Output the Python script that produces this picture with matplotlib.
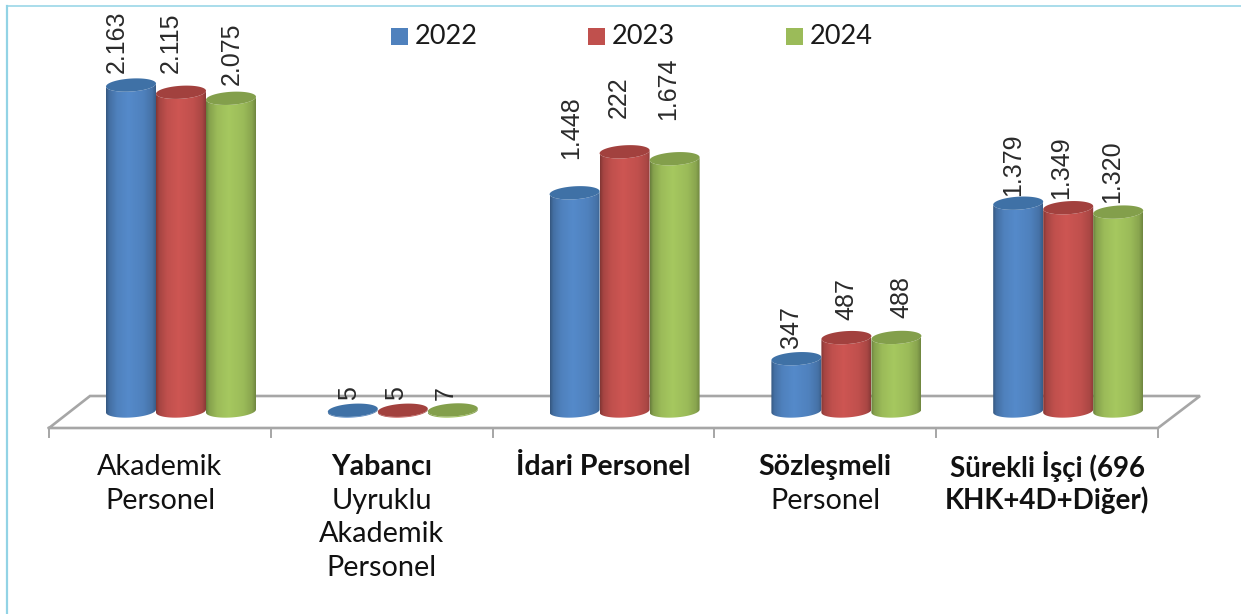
import numpy as np
import matplotlib
matplotlib.use("Agg")
import matplotlib.pyplot as plt
from matplotlib.path import Path
from matplotlib.patches import PathPatch, Rectangle
from matplotlib.colors import to_rgb

years = ["2022", "2023", "2024"]
categories = ["Akademik", "Yabancı", "İdari", "Sözleşmeli", "Sürekli"]
# bar heights, the 2023 idari bar does not match its printed label
values_2022 = [2163, 5, 1448, 347, 1379]
values_2023 = [2115, 5, 1720, 487, 1349]
values_2024 = [2075, 7, 1674, 488, 1320]
labels_2022 = ["2.163", "5", "1.448", "347", "1.379"]
labels_2023 = ["2.115", "5", "222", "487", "1.349"]
labels_2024 = ["2.075", "7", "1.674", "488", "1.320"]

# category text, one entry per line: (text, bold)
cat_lines = [
    [("Akademik", False), ("Personel", False)],
    [("Yabancı", True), ("Uyruklu", False), ("Akademik", False), ("Personel", False)],
    [("İdari Personel", True)],
    [("Sözleşmeli", True), ("Personel", False)],
    [("Sürekli İşçi (696", True), ("KHK+4D+Diğer)", True)],
]

# label nudges in pixels, the original labels were placed by hand
label_dx = [[-14, -10, 1], [-4, -7, -7], [-3, -6, -6], [-5, 0, 5], [-5, -7, -6]]
label_dy = [[12, 19, 13], [10, 10, 10], [34, 34, 39], [11, 18, 19], [7, 9, 9]]

base_cols = ["#4f81bd", "#c0504d", "#9bbb59"]
top_cols = ["#3f71a6", "#a2413e", "#839f4b"]
floor_col = "#a6a6a6"
frame_col = "#92d3e5"
text_font = ["Lato", "DejaVu Sans"]

W, H = 1241, 614
fig = plt.figure(figsize=(W / 100, H / 100), dpi=100, facecolor="white")

# pixel axes for the frame, floor and text
deco = fig.add_axes([0, 0, 1, 1])
deco.set_xlim(0, W)
deco.set_ylim(H, 0)
deco.axis("off")

# frame
deco.plot([7, 7], [6, H], color=frame_col, lw=1.6)
deco.plot([7, W], [6, 6], color=frame_col, lw=1.1)

# floor
floor_x = [49, 90, 1200, 1158, 49]
floor_y = [428, 396, 396, 428, 428]
deco.plot(floor_x, floor_y, color=floor_col, lw=1.9, solid_joinstyle="miter")
for tx in np.linspace(49, 1158, 6):
    deco.plot([tx, tx], [428, 437], color=floor_col, lw=1.4)

# data axes, category 0 sits at x=160px and value 0 at y=411px
px_x = 221.8
px_y = 0.1507
ax = fig.add_axes([0, 0, 1, 1])
ax.patch.set_alpha(0)
ax.axis("off")
xlim = (-160 / px_x, (W - 160) / px_x)
ylim = ((411 - H) / px_y, 411 / px_y)

bar_w = 50 / px_x
depth = 21 / px_x
ell_b = 6.5 / px_y
ell_k = 1.5 / px_y


def shade(col):
    # dark edges, lighter a bit left of the middle
    c = np.array(to_rgb(col))
    t = np.linspace(0, 1, 80)
    f = np.interp(t, [0, 0.06, 0.22, 0.45, 0.75, 0.93, 1], [0.68, 0.86, 1.0, 1.07, 1.0, 0.88, 0.72])
    return np.clip(c[None, None, :] * f[None, :, None], 0, 1)


def cylinder(cx, h, col, top):
    a = bar_w / 2
    t = np.linspace(0, np.pi, 60)
    # top rim left to right over the front, then bottom rim back
    front_top = [(cx - a * np.cos(s), h - ell_b * np.sin(s) + ell_k * (-np.cos(s))) for s in t]
    front_bot = [(cx + a * np.cos(s), -ell_b * np.sin(s) + ell_k * np.cos(s)) for s in t]
    body = Path(front_top + front_bot + [front_top[0]], closed=True)
    patch = PathPatch(body, fc="none", ec="none", transform=ax.transData)
    ax.add_patch(patch)
    im = ax.imshow(shade(col), extent=[cx - a, cx + a, -3 * ell_b, h + 3 * ell_b],
                   aspect="auto", zorder=2, interpolation="bilinear")
    im.set_clip_path(patch)
    u = np.linspace(0, 2 * np.pi, 80)
    ax.fill(cx + a * np.cos(u), h + ell_b * np.sin(u) + ell_k * np.cos(u),
            color=top, lw=0, zorder=2.1)


series_vals = [values_2022, values_2023, values_2024]
series_labs = [labels_2022, labels_2023, labels_2024]

for j in range(3):
    for i in range(len(categories)):
        cx = i + depth + (j - 1) * bar_w
        h = series_vals[j][i]
        cylinder(cx, h, base_cols[j], top_cols[j])
        ax.annotate(series_labs[j][i], (cx, h),
                    xytext=(label_dx[i][j] * 0.72, label_dy[i][j] * 0.72),
                    textcoords="offset points", rotation=90, ha="center", va="bottom",
                    fontsize=18, color="#2a2a2a", family=["Liberation Sans", "DejaVu Sans"],
                    zorder=5)

ax.set_xlim(*xlim)
ax.set_ylim(*ylim)

# category labels
for i, lines in enumerate(cat_lines):
    for k, (txt, bold) in enumerate(lines):
        size = 20.8
        if bold:
            size = 20 if i == 4 else 20.5
        ax.annotate(txt, (i, 0), xycoords=("data", "data"), xytext=(0, -(467 + k * 33.6 - 411) * 0.72),
                    textcoords="offset points", ha="center", va="center", fontsize=size,
                    fontweight="bold" if bold else "normal", color="#111111", family=text_font)

# legend
legend_x = [391, 588, 786]
for j, yr in enumerate(years):
    deco.add_patch(Rectangle((legend_x[j], 28), 17, 17, fc=base_cols[j], ec="none"))
    deco.text(legend_x[j] + 24, 37, yr, fontsize=19.5, va="center", ha="left",
              color="#1a1a1a", family=text_font)

fig.savefig("out.png", dpi=100)
